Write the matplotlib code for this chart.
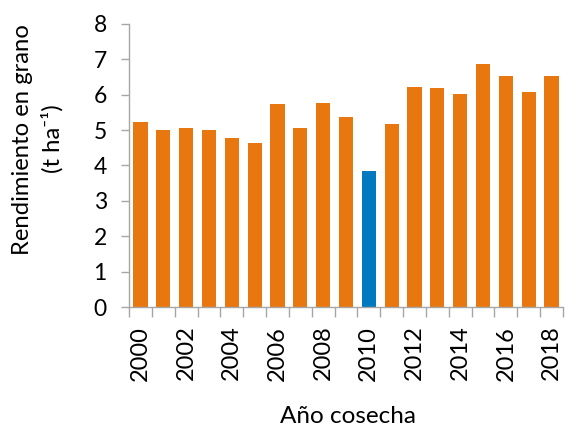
import matplotlib
matplotlib.use("Agg")
import matplotlib.pyplot as plt
import numpy as np

plt.rcParams['font.family'] = ['Lato', 'DejaVu Sans']

years = list(range(2000, 2019))
yields = [5.23, 5.01, 5.05, 4.99, 4.79, 4.65, 5.73, 5.05, 5.78, 5.37,
          3.85, 5.18, 6.23, 6.20, 6.02, 6.88, 6.54, 6.09, 6.52]
highlight_year = 2010
tick_labels = [str(y) if y % 2 == 0 else "" for y in years]

orange = "#E8770F"
blue = "#0079C1"
axis_gray = "#A6A6A6"

W, H = 565, 426
fig = plt.figure(figsize=(W / 100, H / 100), dpi=100)
ax = fig.add_axes([129 / W, 1 - 307 / H, (563 - 129) / W, (307 - 24) / H])

x = np.arange(len(years))
colors = [blue if y == highlight_year else orange for y in years]
ax.bar(x, yields, width=0.62, color=colors, zorder=2)

ax.set_xlim(-0.5, len(years) - 0.5)
ax.set_ylim(0, 8)
ax.set_yticks(range(0, 9))

ax.set_xticks(x)
ax.set_xticklabels(tick_labels, rotation=90, fontsize=17)
ax.set_xticks(np.arange(-0.5, len(years) + 0.5, 1), minor=True)
ax.tick_params(axis='x', which='major', length=0, pad=13.5)
ax.tick_params(axis='x', which='minor', length=7, width=1, color=axis_gray, direction='out')
ax.tick_params(axis='y', length=6, width=1, color=axis_gray, labelsize=16.5, pad=10)

for s in ['top', 'right']:
    ax.spines[s].set_visible(False)
for s in ['left', 'bottom']:
    ax.spines[s].set_color(axis_gray)
    ax.spines[s].set_linewidth(1)

fig.text(22.5 / W, 1 - 139.5 / H, "Rendimiento en grano", rotation=90,
         ha='center', va='center', fontsize=17.2)
fig.text(52 / W, 1 - 138.5 / H, "(t ha\u207b\u00b9)", rotation=90,
         ha='center', va='center', fontsize=17.2)
fig.text(348 / W, 1 - 423 / H, "Año cosecha", ha='center', va='baseline', fontsize=17.5)

fig.savefig("out.png", dpi=100)
